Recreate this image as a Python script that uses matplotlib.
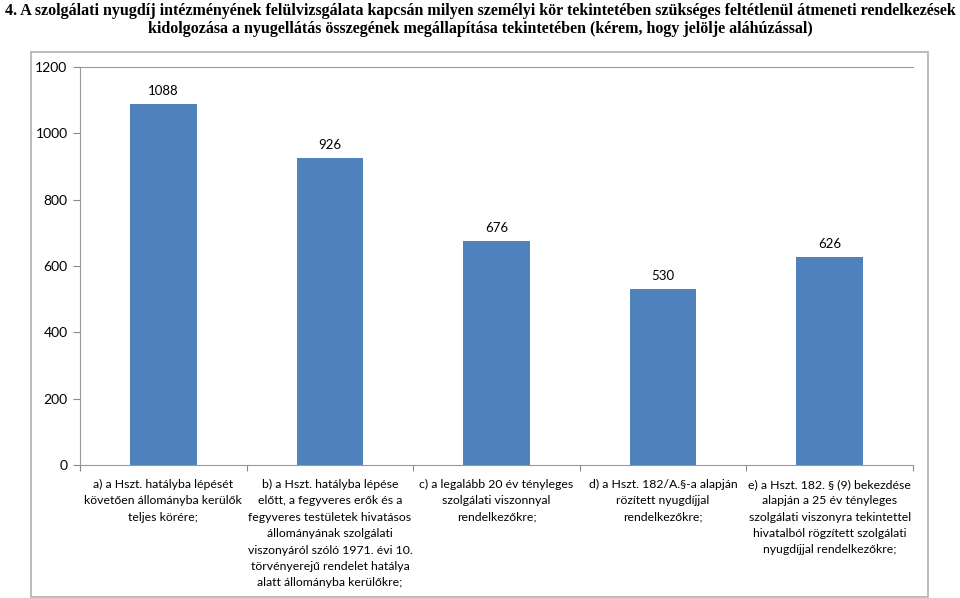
import matplotlib
matplotlib.use("Agg")
import matplotlib.pyplot as plt
from matplotlib.patches import Rectangle

title = ("4. A szolgálati nyugdíj intézményének felülvizsgálata kapcsán milyen személyi kör tekintetében szükséges feltétlenül átmeneti rendelkezések\n"
         "kidolgozása a nyugellátás összegének megállapítása tekintetében (kérem, hogy jelölje aláhúzással)")

categories = [
    "a) a Hszt. hatályba lépését\nkövetően állományba kerülők\nteljes körére;",
    "b) a Hszt. hatályba lépése\nelőtt, a fegyveres erők és a\nfegyveres testületek hivatásos\nállományának szolgálati\nviszonyáról szóló 1971. évi 10.\ntörvényerejű rendelet hatálya\nalatt állományba kerülőkre;",
    "c) a legalább 20 év tényleges\nszolgálati viszonnyal\nrendelkezőkre;",
    "d) a Hszt. 182/A.§-a alapján\nrözített nyugdíjjal\nrendelkezőkre;",
    "e) a Hszt. 182. § (9) bekezdése\nalapján a 25 év tényleges\nszolgálati viszonyra tekintettel\nhivatalból rögzített szolgálati\nnyugdíjjal rendelkezőkre;",
]
values = [1088, 926, 676, 530, 626]
yticks = [0, 200, 400, 600, 800, 1000, 1200]

W, H = 960, 598
fig = plt.figure(figsize=(W / 100, H / 100), dpi=100)

# outer chart frame
fig.patches.append(Rectangle((31 / W, 1 - 597 / H), (928 - 31) / W, (597 - 52) / H,
                             transform=fig.transFigure, fill=False,
                             edgecolor="#b0b0b0", linewidth=1.2))

fig.text(0.5, 1 - 3 / H, title, ha="center", va="top", fontsize=11.5,
         family="Liberation Serif", fontweight="bold", linespacing=1.2)

ax = fig.add_axes([80 / W, 1 - 465 / H, (913 - 80) / W, (465 - 67) / H])
x = list(range(len(values)))
bars = ax.bar(x, values, width=0.4, color="#4f81bd")

for xi, v in zip(x, values):
    ax.annotate(str(v), (xi, v), xytext=(0, 5), textcoords="offset points",
                ha="center", va="bottom", fontsize=9.5, family="Lato")

ax.set_xlim(-0.5, len(values) - 0.5)
ax.set_ylim(0, 1200)
ax.set_yticks(yticks)
ax.set_yticklabels([str(t) for t in yticks], family="Lato", fontsize=10)
ax.set_xticks([i - 0.5 for i in range(len(values) + 1)])
ax.set_xticklabels([])
ax.set_xticks(x, minor=True)
ax.set_xticklabels(categories, minor=True, family="Lato", fontsize=8.8,
                   linespacing=1.6, va="top")
ax.tick_params(axis="x", which="minor", length=0, pad=10)
ax.tick_params(axis="x", which="major", length=4, color="#888888", direction="out")
ax.tick_params(axis="y", length=5, color="#888888", pad=4)

for s in ["left", "bottom", "top"]:
    ax.spines[s].set_color("#999999")
ax.spines["right"].set_visible(False)

fig.savefig("out.png", dpi=100)
